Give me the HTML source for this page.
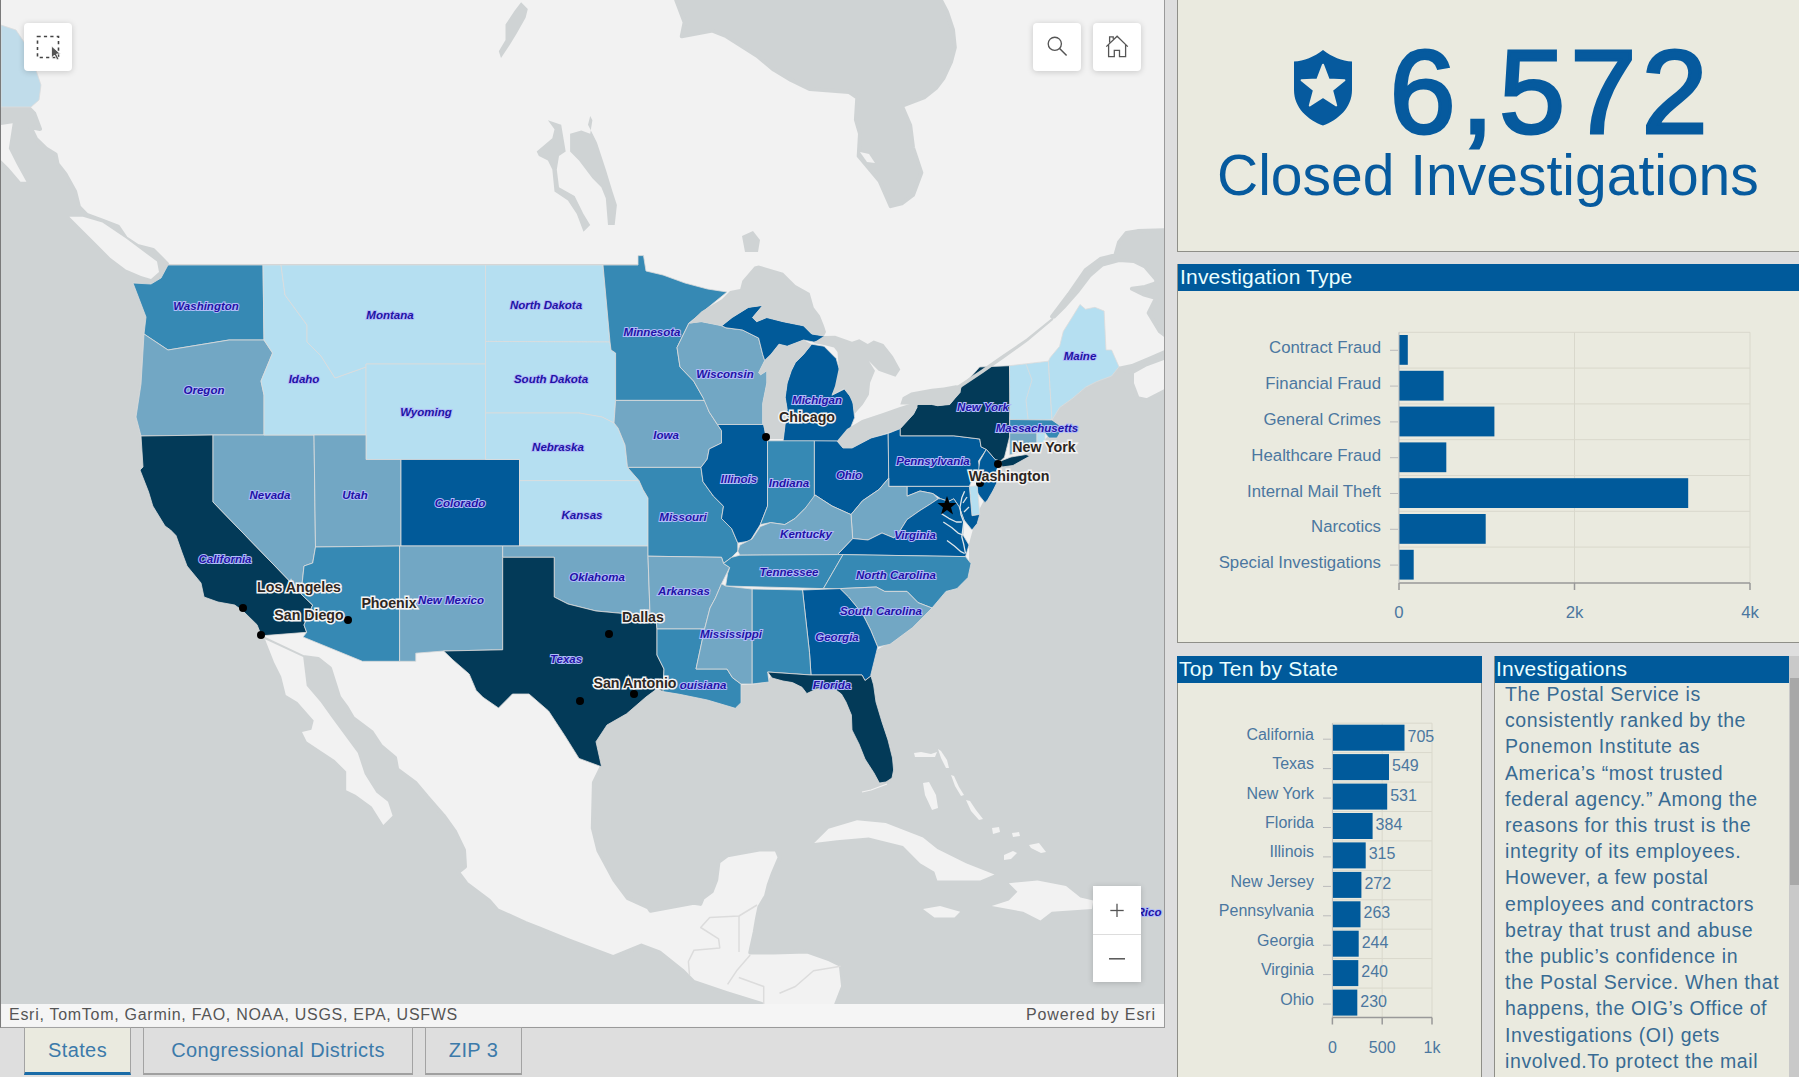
<!DOCTYPE html>
<html><head><meta charset="utf-8"><style>
*{margin:0;padding:0;box-sizing:border-box}
html,body{width:1799px;height:1077px;overflow:hidden;background:#dedede;font-family:"Liberation Sans",sans-serif}
.abs{position:absolute}
#map{left:0;top:0;width:1165px;height:1028px;background:#f2f2f2;border-left:1px solid #7a7a7a;border-right:1px solid #9a9a9a;border-bottom:1px solid #9a9a9a;overflow:hidden}
#map svg{position:absolute;left:0;top:0}
.btn{position:absolute;width:48px;height:48px;background:#fff;border-radius:4px;box-shadow:0 1px 6px rgba(0,0,0,0.18)}
#attr{left:1px;top:1004px;width:1163px;height:22px;background:#f5f5f5;color:#555;font-size:16px;line-height:22px;white-space:nowrap}
.panel{position:absolute;background:#eaeadf;border-left:1px solid #8f8f88}
.hdr{position:absolute;left:0;height:27px;background:#005a9b;color:#eaffff;font-size:21px;line-height:25px;padding-left:2px;letter-spacing:0.2px;white-space:nowrap}
.tab{position:absolute;top:1027px;height:48px;border:1px solid #a3a3a3;border-bottom:2px solid #a0a0a0;background:#dedede;color:#3c7aaa;font-size:20px;text-align:center;line-height:44px;letter-spacing:0.4px}
svg text{font-family:"Liberation Sans",sans-serif}
</style></head><body>
<div id="map" class="abs"><svg width="1164" height="1004" viewBox="0 0 1164 1004"><rect x="0" y="0" width="1164" height="1004" fill="#f2f2f2"/><polygon points="0.0,107.5 27.3,107.5 33.2,113.4 39.0,129.0 29.3,127.0 35.1,138.8 44.9,148.5 54.6,154.4 56.6,164.1 64.4,173.9 74.1,191.4 78.0,207.0 85.8,214.8 101.4,220.7 117.0,226.5 124.8,238.2 136.5,246.0 152.1,249.9 159.9,257.7 166.0,264.0 167.0,270.0 160.0,280.0 150.0,285.0 132.0,283.0 145.0,317.0 143.0,334.0 140.0,384.0 135.0,417.0 140.0,436.0 142.0,467.0 139.0,470.0 147.6,492.0 151.8,506.0 164.0,526.0 169.6,530.0 175.0,535.6 180.8,552.0 186.0,566.0 200.0,583.0 203.0,597.0 217.0,602.0 233.7,605.0 242.0,611.0 256.0,624.7 260.4,635.8 264.0,639.0 302.0,657.0 317.3,659.0 329.0,668.3 338.2,697.3 345.2,706.6 352.1,718.2 370.7,732.1 380.0,746.0 394.0,757.7 396.2,769.3 414.8,783.2 426.4,797.1 442.7,815.7 454.3,832.0 463.0,850.0 464.0,866.6 457.0,872.2 465.4,883.5 488.0,900.5 496.4,910.3 524.7,923.0 538.8,928.7 567.0,940.0 612.2,957.0 640.4,945.6 658.4,952.4 681.2,970.5 692.6,982.0 726.6,993.3 760.6,1004.0 0.0,1004.0" fill="#cfd3d4" stroke="#cfd3d4" stroke-width="4" stroke-linejoin="round"/><polygon points="1164.0,391.0 1164.0,1004.0 835.3,1004.0 842.1,986.5 839.8,965.0 828.5,959.4 805.8,951.4 771.9,952.6 749.2,952.6 753.7,932.2 756.0,918.6 758.3,907.3 765.0,895.9 767.8,884.6 771.9,873.3 778.7,857.4 775.3,849.5 758.3,849.5 726.6,855.2 717.5,862.0 715.2,880.1 710.7,891.4 701.6,898.2 699.4,903.9 692.6,902.7 649.5,910.7 647.3,907.3 626.9,898.2 613.3,880.1 597.4,850.6 591.8,828.0 592.9,782.7 600.6,766.8 595.0,741.7 606.0,725.0 625.6,713.8 645.0,697.0 656.0,688.8 662.0,691.6 678.6,694.3 706.4,700.0 734.3,708.3 740.0,702.7 741.0,687.0 757.3,686.0 768.0,682.0 771.0,678.0 782.0,681.0 791.5,682.6 801.0,687.3 805.8,693.6 815.4,689.0 826.5,687.3 831.2,687.3 840.4,694.0 845.0,702.0 850.4,715.0 851.0,730.0 858.0,744.0 864.0,759.0 873.0,773.0 878.4,783.0 885.0,782.0 891.0,778.0 892.6,770.0 891.5,758.0 887.0,740.0 881.0,722.0 875.0,702.0 872.6,685.0 869.8,675.0 875.3,652.7 889.0,644.3 911.6,627.6 931.0,611.0 945.0,594.2 961.7,585.8 970.0,569.0 970.0,544.0 978.4,513.4 984.0,502.7 991.8,491.0 995.7,483.2 994.4,472.8 997.0,467.6 1000.9,466.3 1010.0,465.0 1025.5,458.5 1023.0,457.2 1036.0,444.0 1044.0,442.0 1048.0,438.0 1056.0,438.0 1060.0,431.0 1058.0,425.0 1051.0,420.0 1058.6,407.6 1071.6,398.3 1084.6,387.2 1095.7,381.6 1110.6,376.0 1118.0,368.6 1131.0,372.3 1131.0,383.4 1136.6,398.3 1145.9,400.2" fill="#cfd3d4" stroke="#cfd3d4" stroke-width="4" stroke-linejoin="round"/><polygon points="675.2,0.0 683.6,22.3 680.8,36.2 711.4,30.6 725.3,36.2 756.0,55.7 772.7,69.6 790.0,80.0 809.0,89.1 847.9,91.9 856.3,97.5 854.9,119.8 859.0,133.7 857.7,156.0 878.6,181.0 889.7,206.1 900.8,203.3 912.0,195.0 920.3,172.7 912.0,147.6 909.2,125.3 900.8,105.8 923.1,97.5 935.0,88.0 942.6,78.0 950.0,62.0 953.8,47.4 952.0,30.0 946.0,12.0 939.8,0.0" fill="#cfd3d4" stroke="#cfd3d4" stroke-width="4" stroke-linejoin="round"/><polygon points="1051.0,316.6 1067.9,294.3 1084.6,270.1 1099.4,259.0 1114.3,255.3 1118.0,242.3 1125.4,233.0 1136.6,231.1 1164.0,230.2 1164.0,335.2 1158.9,331.4 1147.7,312.9 1155.2,298.0 1142.2,294.3 1131.0,288.7 1144.0,286.9 1155.2,283.2 1155.2,279.4 1144.0,266.4 1132.9,260.9 1118.0,260.0 1101.3,264.6 1088.3,275.7 1077.1,290.6 1062.3,307.3 1053.0,316.6" fill="#cfd3d4" stroke="#cfd3d4" stroke-width="4" stroke-linejoin="round"/><polygon points="1118.0,368.6 1131.0,366.0 1150.0,358.0 1164.0,352.0 1164.0,357.4 1144.0,364.9 1131.0,372.3" fill="#cfd3d4" stroke="#cfd3d4" stroke-width="4" stroke-linejoin="round"/><polygon points="569.1,133.7 580.3,130.4 589.2,133.7 591.4,120.3 589.2,115.9 587.0,124.8 595.9,142.6 604.8,169.4 611.5,191.6 615.9,205.0 613.7,225.1 607.0,225.1 604.8,198.3 600.3,187.2 591.4,178.3 578.0,160.4 569.1,151.5" fill="#cfd3d4" /><polygon points="546.9,120.3 560.2,124.8 564.7,151.5 558.0,156.0 555.8,169.4 558.0,187.2 573.6,196.1 582.5,213.9 589.2,225.1 582.5,231.7 575.8,213.9 566.9,200.6 553.5,191.6 551.3,169.4 546.9,160.4 537.9,156.0 535.7,151.5 551.3,138.2 553.5,129.3" fill="#cfd3d4" /><polygon points="520.1,2.2 526.8,8.9 524.6,17.8 515.7,33.4 509.0,44.6 500.0,57.9 497.8,51.3 504.5,40.1 504.5,24.5 513.4,11.1" fill="#cfd3d4" /><polygon points="741.0,236.0 752.0,231.0 759.0,240.0 757.0,252.0 744.0,252.0" fill="#cfd3d4" /><polygon points="264.0,639.3 273.2,662.5 280.2,676.4 284.8,695.0 296.4,702.0 312.7,720.5 310.4,729.8 301.0,732.1 305.7,741.4 319.6,750.7 333.6,760.0 345.2,771.6 345.2,790.2 354.5,794.8 370.7,806.4 382.3,825.0 391.6,815.7 387.0,801.8 375.3,792.5 363.7,774.0 356.8,753.0 331.2,718.2 319.6,702.0 305.7,685.7 302.2,657.0" fill="#f2f2f2" /><polygon points="859.0,152.0 868.0,154.0 874.0,163.0 866.0,162.0" fill="#f2f2f2" /><polygon points="68.3,216.8 81.9,216.8 101.4,222.6 124.8,238.2 156.0,261.6 158.0,272.0 150.0,279.0 140.0,276.0 124.8,269.4 109.2,257.7 93.6,242.1 78.0,226.5" fill="#f2f2f2" /><polygon points="0.0,125.0 11.7,123.2 7.8,148.5 15.6,164.1 25.4,181.7 19.5,181.7 7.8,168.0 0.0,160.2" fill="#f2f2f2" /><polygon points="1104.0,905.0 1120.0,904.0 1122.0,910.0 1105.0,911.0" fill="#f2f2f2" /><polygon points="813.2,843.0 827.5,828.8 856.0,820.2 884.7,823.0 922.0,837.4 936.3,848.9 965.0,863.2 993.5,874.6 979.2,880.4 936.3,880.4 933.4,871.8 919.1,863.2 902.0,846.0 867.6,837.4 836.0,840.3" fill="#f2f2f2" /><polygon points="990.7,906.0 1007.8,900.4 1016.4,891.8 1007.8,883.2 1036.5,880.4 1065.0,886.0 1079.4,897.5 1092.3,900.4 1090.9,909.0 1050.8,911.8 1039.4,920.4 1022.2,911.8" fill="#f2f2f2" /><polygon points="922.0,909.0 939.1,906.0 959.2,911.8 953.5,917.6 933.4,917.6" fill="#f2f2f2" /><polygon points="922.0,783.0 928.0,782.0 935.0,795.0 937.0,808.0 931.0,810.0 924.0,795.0" fill="#f2f2f2" /><polygon points="913.0,753.0 920.0,752.0 930.0,754.0 936.0,752.0 934.0,757.0 922.0,757.0 914.0,757.0" fill="#f2f2f2" /><polygon points="937.0,749.0 940.0,751.0 946.0,760.0 948.0,768.0 945.0,768.0 940.0,758.0" fill="#f2f2f2" /><polygon points="950.0,775.0 953.0,776.0 958.0,787.0 963.0,795.0 960.0,796.0 954.0,786.0" fill="#f2f2f2" /><polygon points="965.0,800.0 969.0,801.0 975.0,810.0 982.0,819.0 978.0,820.0 970.0,811.0" fill="#f2f2f2" /><polygon points="991.0,828.0 998.0,827.0 999.0,832.0 992.0,834.0" fill="#f2f2f2" /><polygon points="1003.0,855.0 1012.0,851.0 1016.0,853.0 1010.0,859.0 1003.0,860.0" fill="#f2f2f2" /><polygon points="1028.0,845.0 1038.0,843.0 1045.0,852.0 1040.0,853.0 1030.0,848.0" fill="#f2f2f2" /><polygon points="1011.0,833.0 1018.0,832.0 1019.0,836.0 1012.0,837.0" fill="#f2f2f2" /><g stroke="#dcdcdc" stroke-width="1" stroke-opacity="0.8" stroke-linejoin="round"><polygon points="0.0,25.0 15.0,30.0 25.0,45.0 35.0,70.0 40.0,85.0 38.0,100.0 30.0,107.0 0.0,107.0" fill="#c0dcea" /><polygon points="132.0,283.0 150.0,284.0 160.0,278.0 167.0,265.0 262.0,265.0 263.0,340.0 228.0,340.0 167.0,350.0 143.0,334.0 145.0,317.0" fill="#3689b4" /><polygon points="143.0,334.0 167.0,350.0 228.0,340.0 263.0,340.0 271.6,353.0 260.0,381.0 263.0,395.0 263.0,435.0 212.0,435.0 140.0,436.0 135.0,417.0 140.0,384.0" fill="#72a7c4" /><polygon points="140.0,436.0 212.0,435.0 212.0,502.0 311.7,605.0 303.0,625.0 305.7,632.3 260.4,635.8 256.0,624.7 242.0,611.0 233.7,605.0 217.0,602.0 203.0,597.0 200.0,583.0 186.0,566.0 180.8,552.0 175.0,535.6 169.6,530.0 164.0,526.0 151.8,506.0 147.6,492.0 139.0,470.0 142.0,467.0" fill="#033a58" /><polygon points="212.0,435.0 313.0,435.0 314.5,547.0 311.7,563.0 303.0,566.0 300.0,594.0 311.7,605.0 212.0,502.0" fill="#72a7c4" /><polygon points="262.0,265.0 280.0,265.0 284.0,295.0 306.0,325.0 306.0,342.0 320.0,356.0 334.0,378.0 365.0,367.0 365.0,435.0 313.0,435.0 263.0,435.0 263.0,395.0 260.0,381.0 271.6,353.0 263.0,340.0" fill="#b5dff1" /><polygon points="280.0,265.0 484.5,265.0 484.5,364.0 365.0,364.0 365.0,367.0 334.0,378.0 320.0,356.0 306.0,342.0 306.0,325.0 284.0,295.0" fill="#b5dff1" /><polygon points="365.0,364.0 484.5,364.0 484.5,459.5 365.0,459.5" fill="#b5dff1" /><polygon points="313.0,435.0 365.0,435.0 365.0,459.5 400.0,459.5 400.0,546.0 314.5,547.0" fill="#72a7c4" /><polygon points="400.0,459.5 518.5,459.5 518.5,546.0 400.0,546.0" fill="#015a99" /><polygon points="314.5,547.0 398.6,546.0 398.6,661.3 361.4,661.3 302.0,637.0 305.7,632.3 303.0,625.0 311.7,605.0 300.0,594.0 303.0,566.0 311.7,563.0" fill="#3689b4" /><polygon points="398.6,546.0 501.7,546.0 501.7,649.8 442.7,651.0 414.8,653.2 414.8,661.3 398.6,661.3" fill="#72a7c4" /><polygon points="484.5,265.0 602.0,265.0 609.0,342.0 484.5,341.4" fill="#b5dff1" /><polygon points="484.5,341.4 609.0,342.0 610.0,350.0 614.6,353.0 614.6,400.4 613.0,423.0 601.0,417.0 578.0,413.0 484.5,413.0" fill="#b5dff1" /><polygon points="484.5,413.0 578.0,413.0 601.0,417.0 613.0,423.0 617.0,428.0 624.0,445.0 626.5,467.4 638.0,480.6 518.5,480.6 518.5,459.5 484.5,459.5" fill="#b5dff1" /><polygon points="518.5,480.6 638.0,480.6 642.0,489.5 647.0,498.0 647.0,546.0 518.5,546.0" fill="#b5dff1" /><polygon points="501.7,546.0 647.0,546.0 647.0,556.2 649.0,613.6 623.0,613.6 595.0,611.0 567.0,604.0 553.2,597.0 553.2,557.3 501.7,557.3" fill="#72a7c4" /><polygon points="501.7,557.3 553.2,557.3 553.2,597.0 567.0,604.0 595.0,611.0 623.0,613.6 649.0,613.6 655.0,619.0 656.0,629.0 656.0,655.0 663.0,669.0 662.0,691.6 656.0,688.8 645.0,697.0 625.6,713.8 606.0,725.0 595.0,741.7 600.6,766.8 578.0,758.4 564.0,736.0 547.6,711.0 528.0,694.0 511.4,694.0 497.5,708.0 482.0,697.3 475.2,690.4 468.2,674.0 452.0,660.0 442.7,651.0 501.7,649.8" fill="#033a58" /><polygon points="602.0,265.0 637.0,265.0 637.0,255.6 642.5,255.6 645.0,271.0 662.0,275.0 684.0,283.0 706.5,289.0 726.0,292.0 688.0,323.0 676.0,347.5 679.0,367.0 692.6,381.0 702.0,397.6 704.2,401.0 702.0,400.4 614.6,400.4 614.6,353.0 610.0,350.0 609.0,342.0" fill="#3689b4" /><polygon points="614.6,400.4 702.0,400.4 704.2,401.0 708.2,412.0 716.4,424.5 720.5,430.6 720.5,443.0 708.2,449.0 706.2,459.2 700.0,467.4 626.5,467.4 624.0,445.0 617.0,428.0 613.0,423.0" fill="#72a7c4" /><polygon points="626.5,467.4 700.0,467.4 702.0,481.7 712.3,496.0 722.5,506.2 720.5,518.5 730.7,528.7 736.8,543.0 736.8,551.1 730.7,557.3 722.5,563.4 720.5,557.3 647.0,556.2 647.0,498.0 642.0,489.5 638.0,480.6" fill="#3689b4" /><polygon points="647.0,556.2 720.5,557.3 722.5,563.4 728.7,567.5 720.5,583.8 714.4,598.0 709.0,608.0 703.6,629.0 656.0,629.0 655.0,619.0 649.0,613.6" fill="#72a7c4" /><polygon points="656.0,629.0 703.6,629.0 695.0,669.0 726.0,669.0 731.4,677.6 740.0,684.0 740.0,702.7 734.3,708.3 706.4,700.0 678.6,694.3 662.0,691.6 663.0,669.0 656.0,655.0" fill="#3689b4" /><polygon points="688.0,323.0 700.4,321.7 710.6,323.7 720.8,325.8 724.9,327.8 741.3,329.9 757.6,338.0 761.7,354.4 763.7,360.5 757.6,372.8 759.7,374.8 765.8,370.7 765.8,383.0 761.7,403.4 761.7,423.8 763.4,424.5 716.4,424.5 708.2,412.0 702.0,397.6 692.6,381.0 679.0,367.0 676.0,347.5" fill="#72a7c4" /><polygon points="720.8,325.8 731.1,317.6 747.4,307.4 761.7,305.4 751.5,317.6 755.6,321.7 765.8,317.6 782.1,321.7 802.5,325.8 810.7,334.0 823.0,336.0 827.1,340.0 812.8,342.1 802.5,340.0 786.2,346.2 778.0,344.2 769.9,354.4 763.7,360.5 761.7,354.4 757.6,338.0 741.3,329.9 724.9,327.8" fill="#015a99" /><polygon points="786.2,383.0 790.3,370.7 794.4,362.5 802.5,354.4 810.7,344.2 823.0,346.2 835.2,358.5 839.3,372.8 835.2,387.0 831.1,395.2 843.4,389.1 851.6,399.3 853.6,417.7 849.5,427.9 841.4,436.1 839.3,441.2 782.1,441.2 784.2,423.8 786.2,409.5 784.2,397.3" fill="#015a99" /><polygon points="716.4,424.5 763.4,424.5 764.6,438.0 766.5,440.8 766.5,506.2 759.3,524.6 749.1,541.0 736.8,543.0 730.7,528.7 720.5,518.5 722.5,506.2 712.3,496.0 702.0,481.7 700.0,467.4 706.2,459.2 708.2,449.0 720.5,443.0 720.5,430.6" fill="#015a99" /><polygon points="766.5,440.8 813.4,440.8 813.4,500.0 804.2,508.3 794.0,518.5 783.8,524.6 769.5,522.6 759.3,524.6 766.5,506.2" fill="#3689b4" /><polygon points="813.4,440.8 836.0,441.0 842.0,448.0 851.0,448.0 870.0,438.0 887.2,433.4 887.8,478.0 878.0,489.5 861.6,500.7 850.0,514.6 831.0,506.0 814.0,495.0 813.4,500.0" fill="#015a99" /><polygon points="887.2,433.4 899.3,428.6 899.3,435.8 952.8,435.8 978.8,439.0 980.0,446.8 985.3,449.4 977.5,461.0 978.8,470.2 969.7,483.2 968.4,486.4 887.8,486.4" fill="#015a99" /><polygon points="899.3,435.8 899.3,428.6 912.6,414.1 916.2,406.9 912.6,404.5 930.7,404.5 936.7,405.7 948.8,404.5 958.4,392.4 960.8,385.2 970.0,376.7 978.6,367.0 1008.5,365.7 1010.0,400.0 1008.7,419.5 1008.7,436.4 1003.5,457.2 999.6,461.0 994.4,459.8 985.3,449.4 980.0,446.8 978.8,439.0 952.8,435.8" fill="#033a58" /><polygon points="999.6,461.0 1010.0,457.0 1025.0,454.5 1029.0,456.0 1012.0,465.5 1001.0,467.0" fill="#033a58" /><polygon points="1008.5,365.7 1047.4,361.2 1051.0,420.0 1008.7,419.5" fill="#b5dff1" /><polygon points="1047.4,361.2 1049.3,357.4 1058.6,346.3 1062.3,331.4 1071.6,316.6 1079.0,304.5 1084.6,309.2 1093.9,307.3 1103.1,311.0 1105.0,350.0 1110.6,350.0 1118.0,366.7 1110.6,376.0 1095.7,381.6 1084.6,387.2 1071.6,398.3 1058.6,407.6 1051.0,420.0" fill="#b5dff1" /><polygon points="1008.7,419.5 1051.0,420.0 1058.0,425.0 1060.0,431.0 1056.0,438.0 1048.0,438.0 1044.0,433.0 1008.7,433.0" fill="#3689b4" /><polygon points="1008.7,433.0 1036.0,433.0 1036.0,444.0 1023.0,450.0 1008.7,455.0" fill="#72a7c4" /><polygon points="1036.0,433.0 1044.0,433.0 1044.0,442.0 1036.0,444.0" fill="#b5dff1" /><polygon points="985.3,449.4 994.4,459.8 999.6,461.0 997.0,467.6 994.4,472.8 995.7,483.2 991.8,491.0 986.6,500.0 984.0,502.7 978.8,496.2 973.6,488.4 978.8,480.6 977.5,470.2 978.8,461.0" fill="#015a99" /><polygon points="968.4,486.4 976.2,485.8 978.8,514.4 971.0,515.7" fill="#b5dff1" /><polygon points="906.0,486.4 968.4,486.4 971.0,515.7 978.8,514.4 976.2,523.5 971.0,530.0 963.0,520.0 958.0,506.6 952.8,498.8 947.6,501.4 939.8,498.8 932.0,493.6 919.0,491.0 906.0,496.2" fill="#015a99" /><polygon points="887.8,478.0 887.8,486.4 906.0,486.4 906.0,496.2 919.0,491.0 932.0,493.6 937.2,498.8 929.4,504.0 919.0,510.5 906.0,519.6 899.5,530.0 893.0,538.0 881.0,533.0 867.0,540.0 851.7,538.5 850.0,514.6 861.6,500.7 878.0,489.5" fill="#72a7c4" /><polygon points="836.4,554.6 851.7,538.5 867.0,540.0 881.0,533.0 893.0,538.0 899.5,530.0 906.0,519.6 919.0,510.5 929.4,504.0 937.2,498.8 939.8,498.8 947.6,501.4 952.8,498.8 958.0,506.6 963.0,520.0 962.0,535.0 968.0,545.0 964.5,556.6" fill="#015a99" /><polygon points="736.8,551.1 738.9,545.0 751.1,538.9 759.3,526.6 769.5,522.6 783.8,524.6 794.0,518.5 804.2,508.3 814.0,495.0 831.0,506.0 850.0,514.6 851.7,538.5 836.4,554.6 738.9,555.2" fill="#72a7c4" /><polygon points="730.7,557.3 738.9,555.2 836.4,554.6 842.0,554.6 822.4,588.6 724.6,586.0 726.6,573.6 728.7,567.5 722.5,563.4" fill="#3689b4" /><polygon points="842.0,554.6 964.5,556.6 970.0,563.6 967.0,577.5 956.0,588.6 945.0,591.4 931.0,608.0 917.0,602.6 906.0,591.4 883.7,591.4 875.3,587.0 839.0,588.6 822.4,588.6" fill="#3689b4" /><polygon points="839.0,588.6 875.3,587.0 883.7,591.4 906.0,591.4 917.0,602.6 931.0,608.0 911.6,627.6 889.0,644.3 876.7,647.0 869.8,630.4 861.4,613.7 847.5,597.0" fill="#72a7c4" /><polygon points="801.5,590.0 839.0,588.6 847.5,597.0 861.4,613.7 869.8,630.4 876.7,647.0 875.3,652.7 869.8,675.0 870.0,676.0 864.0,680.5 861.0,675.0 810.0,675.0 808.5,652.7" fill="#015a99" /><polygon points="751.0,589.0 801.5,590.0 808.5,652.7 810.0,675.0 766.7,672.0 768.0,682.0 751.0,684.0" fill="#3689b4" /><polygon points="724.6,586.0 751.0,589.0 751.0,684.0 740.0,684.0 731.4,677.6 726.0,669.0 695.0,669.0 703.6,629.0 709.0,608.0 714.4,598.0 720.5,583.8" fill="#72a7c4" /><polygon points="766.7,672.0 810.0,675.0 861.0,675.0 864.0,680.5 870.0,676.0 872.6,685.0 875.0,702.0 881.0,722.0 887.0,740.0 891.5,758.0 892.6,770.0 891.0,778.0 885.0,782.0 878.4,783.0 873.0,773.0 864.0,759.0 858.0,744.0 851.0,730.0 850.4,715.0 845.0,702.0 840.4,694.0 831.2,687.3 826.5,687.3 815.4,689.0 805.8,693.6 801.0,687.3 791.5,682.6 782.0,681.0 771.0,678.0" fill="#033a58" /></g><polygon points="688.2,323.7 700.4,311.5 720.8,299.2 729.0,291.0 739.2,289.0 741.3,280.8 753.5,266.6 757.6,265.5 782.1,272.7 794.4,285.0 808.7,293.1 812.8,307.4 818.9,315.6 823.0,325.8 825.0,332.0 823.0,336.0 810.7,334.0 802.5,325.8 782.1,321.7 765.8,317.6 755.6,321.7 751.5,317.6 761.7,305.4 747.4,307.4 731.1,317.6 720.8,325.8 710.6,323.7 700.4,321.7" fill="#cfd3d4" /><polygon points="763.7,360.5 769.9,354.4 778.0,344.2 786.2,346.2 802.5,340.0 810.7,344.2 802.5,354.4 794.4,362.5 790.3,370.7 786.2,383.0 784.2,397.3 786.2,409.5 784.2,423.8 782.1,439.1 765.8,439.1 761.7,423.8 761.7,403.4 765.8,383.0 765.8,370.7 759.7,374.8 757.6,372.8" fill="#cfd3d4" /><polygon points="823.0,336.0 834.1,335.7 851.0,341.7 858.3,339.3 866.7,344.1 872.7,340.5 882.4,344.1 892.0,356.2 899.3,369.5 894.5,376.7 877.6,370.7 867.9,361.0 874.0,370.7 869.1,382.7 867.9,394.8 861.9,404.5 853.4,414.1 852.2,404.5 848.0,395.0 843.0,388.5 830.5,395.5 834.0,386.0 837.8,368.3 836.5,352.0 833.0,347.5 823.0,345.0 812.0,343.0" fill="#cfd3d4" /><polygon points="836.0,441.0 846.0,429.0 861.0,420.0 882.0,413.0 899.0,407.0 912.0,403.0 917.0,404.0 916.2,407.0 912.6,414.1 899.3,428.6 888.0,432.5 870.0,438.0 851.0,448.0 842.0,448.0" fill="#cfd3d4" /><polygon points="899.3,404.5 901.7,397.2 910.2,392.4 930.7,388.8 942.7,387.6 954.8,385.2 960.0,386.0 959.6,392.4 948.8,404.5 936.7,405.7 930.7,404.5 912.6,404.5" fill="#cfd3d4" /><polygon points="956.0,386.0 965.0,380.0 980.0,370.0 1000.0,356.0 1025.0,339.0 1051.0,318.0 1053.0,316.6 1052.0,320.0 1027.0,341.0 1002.0,359.0 982.0,373.0 967.0,383.0 958.0,389.0" fill="#cfd3d4" /><polyline points="861,792 870,790 878,787 886,784" fill="none" stroke="#f2f2f2" stroke-width="1.2"/><polyline points="963.6,491.3 960.8,497.8 959.0,507.1 959.9,514.5 962.7,522.0 961.8,529.4 960.8,536.8 962.7,544.2 964.5,553.5" fill="none" stroke="#dfe6ea" stroke-width="1.3" stroke-linejoin="round"/><polyline points="940.4,513.6 947.8,518.3 955.3,522.0 960.8,522.0" fill="none" stroke="#dfe6ea" stroke-width="1.3" stroke-linejoin="round"/><polyline points="942.3,522.0 950.6,527.5 957.1,533.1 961.8,535.0" fill="none" stroke="#dfe6ea" stroke-width="1.3" stroke-linejoin="round"/><polyline points="946.0,540.5 953.4,546.1 959.9,551.7 963.6,553.5" fill="none" stroke="#dfe6ea" stroke-width="1.3" stroke-linejoin="round"/><polyline points="966.0,497.0 962.0,503.0" fill="none" stroke="#dfe6ea" stroke-width="1.3" stroke-linejoin="round"/><polyline points="968.0,507.0 963.0,512.0" fill="none" stroke="#dfe6ea" stroke-width="1.3" stroke-linejoin="round"/><polyline points="756.0,905.0 738.0,916.0 708.7,917.4 699.7,927.5 717.6,938.8 718.8,947.9 693.0,950.2 687.4,961.5 688.5,975.0" fill="none" stroke="#dcdcdc" stroke-width="1.5" stroke-linejoin="round"/><polyline points="738.0,916.0 738.0,952.0" fill="none" stroke="#dcdcdc" stroke-width="1.5" stroke-linejoin="round"/><polyline points="749.2,954.9 735.6,970.8 726.6,984.4" fill="none" stroke="#dcdcdc" stroke-width="1.5" stroke-linejoin="round"/><polyline points="737.8,977.5 762.7,986.5 762.7,1004.0" fill="none" stroke="#dcdcdc" stroke-width="1.5" stroke-linejoin="round"/><polyline points="778.5,993.3 794.4,986.5 812.5,970.8 839.6,966.3" fill="none" stroke="#dcdcdc" stroke-width="1.5" stroke-linejoin="round"/><polyline points="1025,364 1031,380 1025,400 1027,419" fill="none" stroke="#dcdcdc" stroke-width="1" stroke-opacity="0.8"/><line x1="167" y1="264.5" x2="637" y2="264.5" stroke="#d6d6d6" stroke-width="1.2"/><g font-family="Liberation Sans" font-weight="bold" font-style="italic" font-size="11.5" text-anchor="middle" fill="#2212a6" stroke="#b0bcf8" stroke-width="2" paint-order="stroke"><text x="205" y="310">Washington</text><text x="389" y="319">Montana</text><text x="545" y="309">North Dakota</text><text x="651" y="336">Minnesota</text><text x="724" y="378">Wisconsin</text><text x="816" y="404">Michigan</text><text x="1079" y="360">Maine</text><text x="203" y="394">Oregon</text><text x="303" y="383">Idaho</text><text x="550" y="383">South Dakota</text><text x="425" y="416">Wyoming</text><text x="665" y="439">Iowa</text><text x="982" y="411">New York</text><text x="1036" y="432">Massachusetts</text><text x="557" y="451">Nebraska</text><text x="932" y="465">Pennsylvania</text><text x="738" y="483">Illinois</text><text x="788" y="487">Indiana</text><text x="848" y="479">Ohio</text><text x="269" y="499">Nevada</text><text x="354" y="499">Utah</text><text x="459" y="507">Colorado</text><text x="581" y="519">Kansas</text><text x="682" y="521">Missouri</text><text x="805" y="538">Kentucky</text><text x="914" y="539">Virginia</text><text x="224" y="563">California</text><text x="788" y="576">Tennessee</text><text x="895" y="579">North Carolina</text><text x="596" y="581">Oklahoma</text><text x="683" y="595">Arkansas</text><text x="450" y="604">New Mexico</text><text x="880" y="615">South Carolina</text><text x="730" y="638">Mississippi</text><text x="836" y="641">Georgia</text><text x="565" y="663">Texas</text><text x="702" y="689">ouisiana</text><text x="831" y="689">Florida</text><text x="1148" y="916">Rico</text></g><g fill="#000"><circle cx="765" cy="437" r="4"/><circle cx="242" cy="608" r="4"/><circle cx="260" cy="635" r="4"/><circle cx="347" cy="620" r="4"/><circle cx="608" cy="634" r="4"/><circle cx="579" cy="701" r="4"/><circle cx="633" cy="694" r="4"/><circle cx="997" cy="464" r="4"/><circle cx="979" cy="483" r="4"/></g><polygon points="946,496 948.5,503 955.5,503 950,507.5 952,514.5 946,510 940,514.5 942,507.5 936.5,503 943.5,503" fill="#000"/><g font-family="Liberation Sans" font-weight="bold" font-size="14.2" text-anchor="middle" fill="#2c2622" stroke="#f4f4f4" stroke-width="3" paint-order="stroke"><text x="806" y="422">Chicago</text><text x="298" y="592">Los Angeles</text><text x="308" y="620">San Diego</text><text x="388" y="608">Phoenix</text><text x="642" y="622">Dallas</text><text x="634" y="688">San Antonio</text><text x="1043" y="452">New York</text><text x="1008" y="481">Washington</text></g></svg>
<div class="btn" style="left:23px;top:23px"><svg width="48" height="48" viewBox="0 0 48 48"><rect x="13.5" y="13.5" width="21" height="21" fill="none" stroke="#444" stroke-width="1.6" stroke-dasharray="3.2,3.2"/><path d="M27.5 23 L27.5 35 L30.5 32 L33 37 L35 36 L32.5 31 L36.5 31 Z" fill="#555" stroke="#fff" stroke-width="0.8"/></svg></div>
<div class="btn" style="left:1032px;top:23px"><svg width="48" height="48" viewBox="0 0 48 48"><circle cx="21.8" cy="20.8" r="6.6" fill="none" stroke="#555" stroke-width="1.35"/><line x1="26.6" y1="25.6" x2="33.6" y2="32.6" stroke="#555" stroke-width="1.45"/></svg></div>
<div class="btn" style="left:1092px;top:23px"><svg width="48" height="48" viewBox="0 0 48 48"><path d="M13.3 23.6 L24.1 13.2 L34.8 23.6 M15.6 21.6 V33.7 H21.3 V27.4 H26.5 V33.7 H32.6 V21.6 M16.6 19.4 V13.8 H20.2 V15.8" fill="none" stroke="#555" stroke-width="1.3" stroke-linejoin="miter"/></svg></div>
<div class="btn" style="left:1092px;top:886px;height:96px;border-radius:0"><svg width="48" height="96" viewBox="0 0 48 96"><line x1="24" y1="17.7" x2="24" y2="31" stroke="#555" stroke-width="1.3"/><line x1="17.3" y1="24.5" x2="30.7" y2="24.5" stroke="#555" stroke-width="1.3"/><line x1="0" y1="48.5" x2="48" y2="48.5" stroke="#ddd" stroke-width="1"/><line x1="16" y1="72.8" x2="32" y2="72.8" stroke="#555" stroke-width="1.5"/></svg></div>
<div id="attr" class="abs"><span style="position:absolute;left:7px;letter-spacing:0.72px">Esri, TomTom, Garmin, FAO, NOAA, USGS, EPA, USFWS</span><span style="position:absolute;right:9px;letter-spacing:0.9px">Powered by Esri</span></div>
</div>
<div class="tab" style="left:24px;width:107px;background:#eaeadf;border-bottom:3px solid #1a6ca8">States</div>
<div class="tab" style="left:143px;width:270px">Congressional Districts</div>
<div class="tab" style="left:425px;width:97px">ZIP 3</div>

<div class="panel" style="left:1177px;top:0;width:622px;height:252px;border-bottom:1px solid #8f8f88">
<svg class="abs" style="left:116px;top:50px" width="58" height="76" viewBox="0 0 58 76"><path d="M29 0 C20 7 10 11 0 11.5 L0 40 C0 58 14 70 29 75.5 C44 70 58 58 58 40 L58 11.5 C48 11 38 7 29 0 Z" fill="#065a9e"/><path d="M29.0 14.7 L34.6 29.4 L50.4 30.2 L38.1 40.2 L42.2 55.4 L29.0 46.8 L15.8 55.4 L19.9 40.2 L7.6 30.2 L23.4 29.4 Z" fill="#eaeadf" stroke="#eaeadf" stroke-width="2" stroke-linejoin="round"/></svg>
<div class="abs" style="left:211.5px;top:23.5px;font-size:119px;-webkit-text-stroke:3px #065a9e;color:#065a9e;letter-spacing:5.1px;line-height:136px;white-space:nowrap">6,572</div>
<div class="abs" style="left:39px;top:140px;font-size:57px;color:#065a9e;letter-spacing:0px;line-height:70px;white-space:nowrap">Closed Investigations</div>
</div>
<div class="panel" style="left:1177px;top:264px;width:622px;height:379px;border-bottom:1px solid #8f8f88"><div class="hdr" style="top:0;width:621px">Investigation Type</div></div>
<svg class="abs" style="left:0;top:0;pointer-events:none" width="1799" height="1077"><g font-size="16.8" fill="#4b77a0"><line x1="1399" y1="332.3" x2="1750" y2="332.3" stroke="#d9d8cc" stroke-width="1"/><line x1="1399" y1="368.1" x2="1750" y2="368.1" stroke="#d9d8cc" stroke-width="1"/><line x1="1399" y1="403.9" x2="1750" y2="403.9" stroke="#d9d8cc" stroke-width="1"/><line x1="1399" y1="439.7" x2="1750" y2="439.7" stroke="#d9d8cc" stroke-width="1"/><line x1="1399" y1="475.5" x2="1750" y2="475.5" stroke="#d9d8cc" stroke-width="1"/><line x1="1399" y1="511.3" x2="1750" y2="511.3" stroke="#d9d8cc" stroke-width="1"/><line x1="1399" y1="547.1" x2="1750" y2="547.1" stroke="#d9d8cc" stroke-width="1"/><line x1="1574.5" y1="332.3" x2="1574.5" y2="583" stroke="#d9d8cc" stroke-width="1"/><line x1="1750" y1="332.3" x2="1750" y2="583" stroke="#d9d8cc" stroke-width="1"/><rect x="1399" y="335.0" width="8.8" height="29.8" fill="#005a9b"/><line x1="1390" y1="350.3" x2="1398" y2="350.3" stroke="#bbb" stroke-width="1"/><text x="1381" y="353.3" text-anchor="end">Contract Fraud</text><rect x="1399" y="370.8" width="44.6" height="29.8" fill="#005a9b"/><line x1="1390" y1="386.1" x2="1398" y2="386.1" stroke="#bbb" stroke-width="1"/><text x="1381" y="389.1" text-anchor="end">Financial Fraud</text><rect x="1399" y="406.6" width="95.4" height="29.8" fill="#005a9b"/><line x1="1390" y1="421.9" x2="1398" y2="421.9" stroke="#bbb" stroke-width="1"/><text x="1381" y="424.9" text-anchor="end">General Crimes</text><rect x="1399" y="442.4" width="47.3" height="29.8" fill="#005a9b"/><line x1="1390" y1="457.7" x2="1398" y2="457.7" stroke="#bbb" stroke-width="1"/><text x="1381" y="460.7" text-anchor="end">Healthcare Fraud</text><rect x="1399" y="478.2" width="289.2" height="29.8" fill="#005a9b"/><line x1="1390" y1="493.5" x2="1398" y2="493.5" stroke="#bbb" stroke-width="1"/><text x="1381" y="496.5" text-anchor="end">Internal Mail Theft</text><rect x="1399" y="514.0" width="86.7" height="29.8" fill="#005a9b"/><line x1="1390" y1="529.3" x2="1398" y2="529.3" stroke="#bbb" stroke-width="1"/><text x="1381" y="532.3" text-anchor="end">Narcotics</text><rect x="1399" y="549.8" width="14.7" height="29.8" fill="#005a9b"/><line x1="1390" y1="565.1" x2="1398" y2="565.1" stroke="#bbb" stroke-width="1"/><text x="1381" y="568.1" text-anchor="end">Special Investigations</text><line x1="1399" y1="583" x2="1750" y2="583" stroke="#999" stroke-width="1.5"/><line x1="1399" y1="332.3" x2="1399" y2="583" stroke="#bbb" stroke-width="1"/><line x1="1399" y1="583" x2="1399" y2="590" stroke="#999" stroke-width="1.5"/><text x="1399" y="618" text-anchor="middle">0</text><line x1="1574.5" y1="583" x2="1574.5" y2="590" stroke="#999" stroke-width="1.5"/><text x="1574.5" y="618" text-anchor="middle">2k</text><line x1="1750" y1="583" x2="1750" y2="590" stroke="#999" stroke-width="1.5"/><text x="1750" y="618" text-anchor="middle">4k</text></g></svg>
<div class="panel" style="left:1177px;top:656px;width:305px;height:421px;border-right:1px solid #8f8f88"><div class="hdr" style="top:0;width:305px;left:-1px">Top Ten by State</div></div>
<svg class="abs" style="left:0;top:0" width="1799" height="1077"><g font-size="16" fill="#4b77a0"><line x1="1332.4" y1="723.2" x2="1432" y2="723.2" stroke="#d9d8cc" stroke-width="1"/><line x1="1332.4" y1="752.6" x2="1432" y2="752.6" stroke="#d9d8cc" stroke-width="1"/><line x1="1332.4" y1="782.1" x2="1432" y2="782.1" stroke="#d9d8cc" stroke-width="1"/><line x1="1332.4" y1="811.5" x2="1432" y2="811.5" stroke="#d9d8cc" stroke-width="1"/><line x1="1332.4" y1="840.9" x2="1432" y2="840.9" stroke="#d9d8cc" stroke-width="1"/><line x1="1332.4" y1="870.4" x2="1432" y2="870.4" stroke="#d9d8cc" stroke-width="1"/><line x1="1332.4" y1="899.8" x2="1432" y2="899.8" stroke="#d9d8cc" stroke-width="1"/><line x1="1332.4" y1="929.2" x2="1432" y2="929.2" stroke="#d9d8cc" stroke-width="1"/><line x1="1332.4" y1="958.6" x2="1432" y2="958.6" stroke="#d9d8cc" stroke-width="1"/><line x1="1332.4" y1="988.1" x2="1432" y2="988.1" stroke="#d9d8cc" stroke-width="1"/><line x1="1382.2" y1="723.2" x2="1382.2" y2="1017.5" stroke="#d9d8cc" stroke-width="1"/><line x1="1432" y1="723.2" x2="1432" y2="1017.5" stroke="#d9d8cc" stroke-width="1"/><rect x="1332.4" y="724.7" width="72.1" height="26" fill="#005a9b"/><line x1="1323" y1="739.2" x2="1331" y2="739.2" stroke="#bbb" stroke-width="1"/><text x="1314" y="739.7" text-anchor="end">California</text><text x="1407.5" y="741.7" text-anchor="start">705</text><rect x="1332.4" y="754.1" width="56.6" height="26" fill="#005a9b"/><line x1="1323" y1="768.6" x2="1331" y2="768.6" stroke="#bbb" stroke-width="1"/><text x="1314" y="769.1" text-anchor="end">Texas</text><text x="1392.0" y="771.1" text-anchor="start">549</text><rect x="1332.4" y="783.6" width="54.8" height="26" fill="#005a9b"/><line x1="1323" y1="798.1" x2="1331" y2="798.1" stroke="#bbb" stroke-width="1"/><text x="1314" y="798.6" text-anchor="end">New York</text><text x="1390.2" y="800.6" text-anchor="start">531</text><rect x="1332.4" y="813.0" width="40.2" height="26" fill="#005a9b"/><line x1="1323" y1="827.5" x2="1331" y2="827.5" stroke="#bbb" stroke-width="1"/><text x="1314" y="828.0" text-anchor="end">Florida</text><text x="1375.6" y="830.0" text-anchor="start">384</text><rect x="1332.4" y="842.4" width="33.3" height="26" fill="#005a9b"/><line x1="1323" y1="856.9" x2="1331" y2="856.9" stroke="#bbb" stroke-width="1"/><text x="1314" y="857.4" text-anchor="end">Illinois</text><text x="1368.7" y="859.4" text-anchor="start">315</text><rect x="1332.4" y="871.9" width="29.0" height="26" fill="#005a9b"/><line x1="1323" y1="886.4" x2="1331" y2="886.4" stroke="#bbb" stroke-width="1"/><text x="1314" y="886.9" text-anchor="end">New Jersey</text><text x="1364.4" y="888.9" text-anchor="start">272</text><rect x="1332.4" y="901.3" width="28.1" height="26" fill="#005a9b"/><line x1="1323" y1="915.8" x2="1331" y2="915.8" stroke="#bbb" stroke-width="1"/><text x="1314" y="916.3" text-anchor="end">Pennsylvania</text><text x="1363.5" y="918.3" text-anchor="start">263</text><rect x="1332.4" y="930.7" width="26.3" height="26" fill="#005a9b"/><line x1="1323" y1="945.2" x2="1331" y2="945.2" stroke="#bbb" stroke-width="1"/><text x="1314" y="945.7" text-anchor="end">Georgia</text><text x="1361.7" y="947.7" text-anchor="start">244</text><rect x="1332.4" y="960.1" width="25.9" height="26" fill="#005a9b"/><line x1="1323" y1="974.6" x2="1331" y2="974.6" stroke="#bbb" stroke-width="1"/><text x="1314" y="975.1" text-anchor="end">Virginia</text><text x="1361.3" y="977.1" text-anchor="start">240</text><rect x="1332.4" y="989.6" width="24.9" height="26" fill="#005a9b"/><line x1="1323" y1="1004.1" x2="1331" y2="1004.1" stroke="#bbb" stroke-width="1"/><text x="1314" y="1004.6" text-anchor="end">Ohio</text><text x="1360.3" y="1006.6" text-anchor="start">230</text><line x1="1332.4" y1="1017.5" x2="1432" y2="1017.5" stroke="#999" stroke-width="1.5"/><line x1="1332.4" y1="723.2" x2="1332.4" y2="1017.5" stroke="#bbb" stroke-width="1"/><line x1="1332.4" y1="1017.5" x2="1332.4" y2="1024.5" stroke="#999" stroke-width="1.5"/><text x="1332.4" y="1053" text-anchor="middle">0</text><line x1="1382.2" y1="1017.5" x2="1382.2" y2="1024.5" stroke="#999" stroke-width="1.5"/><text x="1382.2" y="1053" text-anchor="middle">500</text><line x1="1432" y1="1017.5" x2="1432" y2="1024.5" stroke="#999" stroke-width="1.5"/><text x="1432" y="1053" text-anchor="middle">1k</text></g></svg>
<div class="panel" style="left:1494px;top:656px;width:295px;height:421px;overflow:hidden"><div class="hdr" style="top:0;width:295px;left:-1px">Investigations</div>
<div class="abs" style="left:10px;top:25px;font-size:19.5px;line-height:26.2px;color:#386b93;letter-spacing:0.6px;white-space:nowrap">The Postal Service is<br>consistently ranked by the<br>Ponemon Institute as<br>America’s “most trusted<br>federal agency.” Among the<br>reasons for this trust is the<br>integrity of its employees.<br>However, a few postal<br>employees and contractors<br>betray that trust and abuse<br>the public’s confidence in<br>the Postal Service. When that<br>happens, the OIG’s Office of<br>Investigations (OI) gets<br>involved.To protect the mail</div></div>
<div class="abs" style="left:1789px;top:656px;width:10px;height:421px;background:#c9c9c9"></div>
<div class="abs" style="left:1790px;top:678px;width:9px;height:207px;background:#a8a8a8"></div>
</body></html>
